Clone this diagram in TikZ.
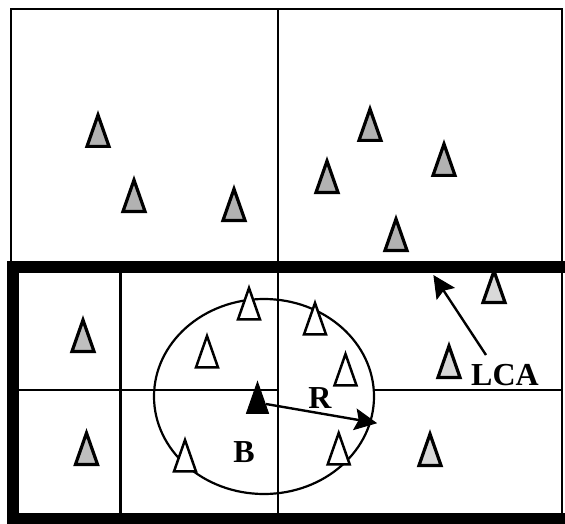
\documentclass[tikz,border=0pt]{standalone}
\usepackage{fontspec}
\setmainfont{Liberation Serif}
\usetikzlibrary{calc}
\tikzset{
  thinline/.style={line width=2.2pt},
  greytri/.style={draw=black, line width=3.2pt, line join=miter, fill=#1},
  hollowtri/.style={draw=black, line width=2.5pt, line join=miter, fill=white},
  blacktri/.style={draw=black, line width=1pt, line join=miter, fill=black},
  lbl/.style={inner sep=0pt, font=\fontsize{32}{32}\selectfont\bfseries},
  arrowline/.style={line width=2.4pt},
  arrowhead/.style={fill=black, draw=black, line width=1pt, line join=miter}
}
% #1 style, #2 centre x, #3 base y (outer)
\newcommand{\trix}[3]{\draw[#1] ({#2-11},{#3-1.6}) -- (#2,{#3-33}) -- ({#2+11},{#3-1.6}) -- cycle;}
% arrow from #1 to #2 with a large filled head
\newcommand{\bigarr}[2]{%
  \draw[arrowline] (#1) -- ($(#2)!15pt!(#1)$);
  \draw[arrowhead] (#2) -- ($(#2)!23pt!26:(#1)$) -- ($(#2)!17pt!(#1)$) -- ($(#2)!23pt!-26:(#1)$) -- cycle;}
\begin{document}
\begin{tikzpicture}[x=1pt,y=-1pt]
\useasboundingbox (0,0) rectangle (565,524);
% frames and grid
\draw[thinline] (11,9) rectangle (562,266);
\draw[thinline] (278,9) -- (278,518);
\draw[thinline] (120.5,266) -- (120.5,518);
\draw[thinline] (13,390) -- (278,390);
\draw[thinline] (374,390) -- (562,390);
\draw[thinline] (562,266) -- (562,518);
\draw[line width=12pt] (565,266.5) -- (13,266.5) -- (13,518.5) -- (565,518.5);
% circle
\draw[thinline] (264,396.5) ellipse [x radius=110, y radius=97.5];
% top triangles
\trix{greytri=gray!60}{98}{148}
\trix{greytri=gray!60}{134}{213}
\trix{greytri=gray!60}{234}{222}
\trix{greytri=gray!60}{370}{142}
\trix{greytri=gray!60}{327}{194}
\trix{greytri=gray!60}{444}{177}
\trix{greytri=gray!60}{396}{252}
% lower grey triangles
\trix{greytri=gray!50}{83}{353}
\trix{greytri=gray!50}{86.5}{466}
\trix{greytri=gray!30}{494}{304}
\trix{greytri=gray!30}{449}{379}
\trix{greytri=gray!30}{430}{467}
% hollow triangles
\trix{hollowtri}{249}{321}
\trix{hollowtri}{315}{336}
\trix{hollowtri}{207}{369}
\trix{hollowtri}{345.5}{387}
\trix{hollowtri}{185}{473}
\trix{hollowtri}{338.7}{466}
% black triangle B
\trix{blacktri}{257.5}{415}
% arrows and labels
\coordinate (bsrc) at (266,404);
\coordinate (redge) at (376,423);
\bigarr{bsrc}{redge}
\node[lbl] (R) at (320,398.5) {R};
\node[lbl] (B) at (244,452) {B};
\node[lbl] (LCA) at (505,375.5) {LCA};
\coordinate (lcasrc) at (486,355);
\coordinate (lcatip) at (434,276);
\bigarr{lcasrc}{lcatip}
\end{tikzpicture}
\end{document}
